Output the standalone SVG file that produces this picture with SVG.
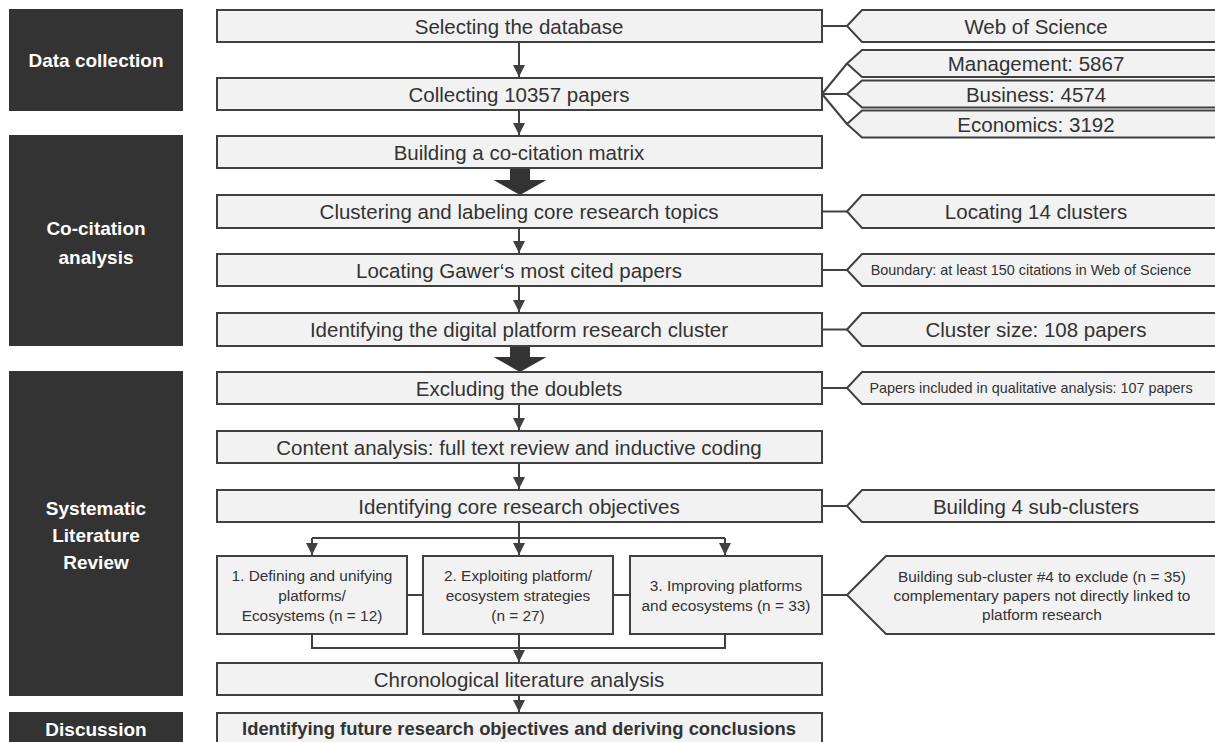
<svg xmlns="http://www.w3.org/2000/svg" width="1215" height="742" viewBox="0 0 1215 742">
<style>
.phase{fill:#333333;}
.pt{font-family:"Liberation Sans",Arial,sans-serif;font-weight:bold;font-size:19px;fill:#ffffff;text-anchor:middle;}
.box{fill:#f2f2f2;stroke:#404040;stroke-width:2;}
.t{font-family:"Liberation Sans",Arial,sans-serif;font-size:20.5px;fill:#333333;text-anchor:middle;}
.tb{font-family:"Liberation Sans",Arial,sans-serif;font-size:18.4px;font-weight:bold;fill:#333333;text-anchor:middle;}
.ts{font-family:"Liberation Sans",Arial,sans-serif;font-size:14.4px;fill:#333333;text-anchor:middle;}
.tm{font-family:"Liberation Sans",Arial,sans-serif;font-size:15.4px;fill:#333333;text-anchor:middle;}
.ln{fill:none;stroke:#404040;stroke-width:2;}
.ar{fill:none;stroke:#404040;stroke-width:2;marker-end:url(#ah);}
.big{fill:#333333;}
</style>
<defs>
<marker id="ah" markerUnits="userSpaceOnUse" markerWidth="14" markerHeight="12" refX="12" refY="6" orient="auto">
<path d="M0,0 L12,6 L0,12 Z" fill="#404040"/>
</marker>
</defs>

<g id="phase-data"><rect class="phase" x="9" y="9" width="174" height="102"/><text class="pt" x="96" y="67">Data collection</text></g>
<g id="phase-cocitation"><rect class="phase" x="9" y="135" width="174" height="211"/><text class="pt" x="96" y="235">Co-citation</text><text class="pt" x="96" y="264">analysis</text></g>
<g id="phase-slr"><rect class="phase" x="9" y="371" width="174" height="325"/><text class="pt" x="96" y="515">Systematic</text><text class="pt" x="96" y="542">Literature</text><text class="pt" x="96" y="569">Review</text></g>
<g id="phase-discussion"><rect class="phase" x="9" y="712" width="174" height="40"/><text class="pt" x="96" y="736">Discussion</text></g>

<g id="connectors">
<line class="ar" x1="519" y1="42" x2="519" y2="77"/>
<line class="ar" x1="519" y1="110" x2="519" y2="135"/>
<path class="big" d="M510,168 H530 V180 H546.5 L520,195 L493.5,180 H510 Z"/>
<line class="ar" x1="519" y1="228" x2="519" y2="253"/>
<line class="ar" x1="519" y1="286" x2="519" y2="312"/>
<path class="big" d="M510,346 H530 V357 H546.5 L520,372 L493.5,357 H510 Z"/>
<line class="ar" x1="519" y1="404" x2="519" y2="430"/>
<line class="ar" x1="519" y1="463" x2="519" y2="489"/>
<line class="ln" x1="519" y1="522" x2="519" y2="538"/>
<line class="ln" x1="312" y1="538" x2="725" y2="538"/>
<line class="ar" x1="312" y1="538" x2="312" y2="555"/>
<line class="ar" x1="519" y1="538" x2="519" y2="555"/>
<line class="ar" x1="725" y1="538" x2="725" y2="555"/>
<polyline class="ln" points="312,634 312,648 725,648 725,634"/>
<line class="ar" x1="519" y1="634" x2="519" y2="662"/>
<line class="ar" x1="519" y1="695" x2="519" y2="712"/>
<line class="ln" x1="407" y1="595" x2="423" y2="595"/>
<line class="ln" x1="613" y1="595" x2="630" y2="595"/>
<line class="ln" x1="822" y1="595" x2="847" y2="595"/>
<line class="ln" x1="822" y1="26" x2="847" y2="26"/>
<line class="ln" x1="822" y1="94" x2="847" y2="63.5"/>
<line class="ln" x1="822" y1="94" x2="847" y2="94"/>
<line class="ln" x1="822" y1="94" x2="847" y2="124"/>
<line class="ln" x1="822" y1="211.5" x2="847" y2="211.5"/>
<line class="ln" x1="822" y1="270" x2="847" y2="270"/>
<line class="ln" x1="822" y1="329.5" x2="847" y2="329.5"/>
<line class="ln" x1="822" y1="388" x2="847" y2="388"/>
<line class="ln" x1="822" y1="506" x2="847" y2="506"/>
</g>

<g id="n-select"><rect class="box" x="217" y="10" width="605" height="32"/><text class="t" x="519" y="33.5">Selecting the database</text></g>
<g id="n-collect"><rect class="box" x="217" y="78" width="605" height="32"/><text class="t" x="519" y="101.5">Collecting 10357 papers</text></g>
<g id="n-matrix"><rect class="box" x="217" y="136" width="605" height="32"/><text class="t" x="519" y="159.5">Building a co-citation matrix</text></g>
<g id="n-cluster"><rect class="box" x="217" y="195" width="605" height="33"/><text class="t" x="519" y="219">Clustering and labeling core research topics</text></g>
<g id="n-gawer"><rect class="box" x="217" y="254" width="605" height="32"/><text class="t" x="519" y="277.5">Locating Gawer‘s most cited papers</text></g>
<g id="n-identify"><rect class="box" x="217" y="313" width="605" height="33"/><text class="t" x="519" y="337">Identifying the digital platform research cluster</text></g>
<g id="n-exclude"><rect class="box" x="217" y="372" width="605" height="32"/><text class="t" x="519" y="395.5">Excluding the doublets</text></g>
<g id="n-content"><rect class="box" x="217" y="431" width="605" height="32"/><text class="t" x="519" y="454.5">Content analysis: full text review and inductive coding</text></g>
<g id="n-objectives"><rect class="box" x="217" y="490" width="605" height="32"/><text class="t" x="519" y="513.5">Identifying core research objectives</text></g>
<g id="n-sub1"><rect class="box" x="217" y="556" width="190" height="78"/><text class="tm" x="312" y="581">1. Defining and unifying</text><text class="tm" x="312" y="601">platforms/</text><text class="tm" x="312" y="621">Ecosystems (n = 12)</text></g>
<g id="n-sub2"><rect class="box" x="423" y="556" width="190" height="78"/><text class="tm" x="518" y="581">2. Exploiting platform/</text><text class="tm" x="518" y="601">ecosystem strategies</text><text class="tm" x="518" y="621">(n = 27)</text></g>
<g id="n-sub3"><rect class="box" x="630" y="556" width="192" height="78"/><text class="tm" x="726" y="591">3. Improving platforms</text><text class="tm" x="726" y="611">and ecosystems (n = 33)</text></g>
<g id="n-chrono"><rect class="box" x="217" y="663" width="605" height="32"/><text class="t" x="519" y="686.5">Chronological literature analysis</text></g>
<g id="n-future"><rect class="box" x="217" y="713" width="605" height="40"/><text class="tb" x="519" y="735">Identifying future research objectives and deriving conclusions</text></g>

<g id="c-wos"><polygon class="box" points="847,26 862,10 1225,10 1225,42 862,42"/><text class="t" x="1036" y="33.5">Web of Science</text></g>
<g id="c-mgmt"><polygon class="box" points="847,63.5 862,50 1225,50 1225,77 862,77"/><text class="t" x="1036" y="71">Management: 5867</text></g>
<g id="c-bus"><polygon class="box" points="847,94 862,80.5 1225,80.5 1225,107.5 862,107.5"/><text class="t" x="1036" y="101.5">Business: 4574</text></g>
<g id="c-eco"><polygon class="box" points="847,124 862,110.5 1225,110.5 1225,137.5 862,137.5"/><text class="t" x="1036" y="131.5">Economics: 3192</text></g>
<g id="c-14"><polygon class="box" points="847,211.5 862,195 1225,195 1225,228 862,228"/><text class="t" x="1036" y="219">Locating 14 clusters</text></g>
<g id="c-boundary"><polygon class="box" points="847,270 862,254 1225,254 1225,286 862,286"/><text class="ts" x="1031" y="275">Boundary: at least 150 citations in Web of Science</text></g>
<g id="c-size"><polygon class="box" points="847,329.5 862,313 1225,313 1225,346 862,346"/><text class="t" x="1036" y="337">Cluster size: 108 papers</text></g>
<g id="c-included"><polygon class="box" points="847,388 862,372 1225,372 1225,404 862,404"/><text class="ts" x="1031" y="393">Papers included in qualitative analysis: 107 papers</text></g>
<g id="c-sub4"><polygon class="box" points="847,506 862,490 1225,490 1225,522 862,522"/><text class="t" x="1036" y="513.5">Building 4 sub-clusters</text></g>
<g id="c-excl"><polygon class="box" points="847,595 886,556 1225,556 1225,634 886,634"/><text class="tm" x="1042" y="582">Building sub-cluster #4 to exclude (n = 35)</text><text class="tm" x="1042" y="601">complementary papers not directly linked to</text><text class="tm" x="1042" y="620">platform research</text></g>
</svg>
